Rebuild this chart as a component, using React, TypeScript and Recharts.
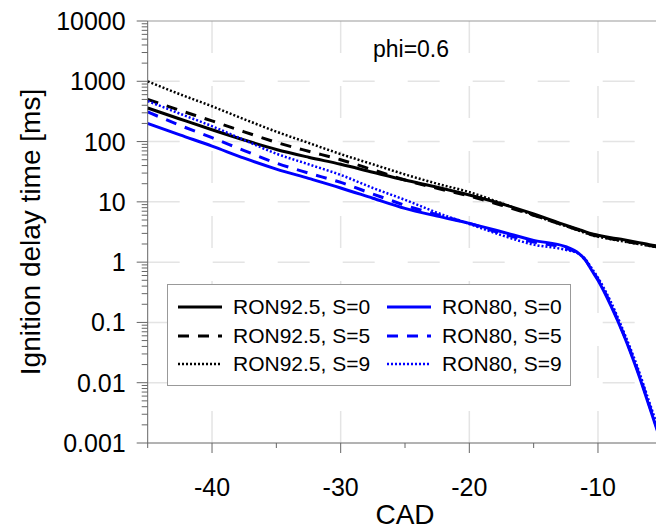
import React from "react";
import {
  LineChart,
  Line,
  XAxis,
  YAxis,
  CartesianGrid,
  ReferenceLine,
  Legend,
  Label,
} from "recharts";

// crank angle (CAD)
const cad = [-45, -42.5, -40, -37.5, -35, -32.5, -30, -27.5, -25, -22.5, -20, -17.5, -15, -12.5, -11.5, -11, -10.5, -10, -9, -8, -7, -6, -5];

// ignition delay time [ms]
const ron925S0 = [360, 237, 157, 106, 74, 55, 42, 31, 23, 17.5, 13, 9.3, 6.3, 4.1, 3.5, 3.2, 2.95, 2.8, 2.55, 2.35, 2.15, 1.95, 1.8];
const ron925S5 = [500, 330, 220, 145, 97, 69, 50, 34, 23, 16.8, 12.5, 8.8, 6.0, 4.0, 3.4, 3.1, 2.85, 2.7, 2.45, 2.25, 2.05, 1.88, 1.72];
const ron925S9 = [1000, 610, 385, 235, 146, 95, 62, 42, 28.5, 20, 14.5, 9.5, 6.0, 3.95, 3.35, 3.05, 2.8, 2.65, 2.4, 2.2, 2.02, 1.86, 1.7];
const ron80S0 = [200, 129, 84, 53, 35, 24.5, 17, 11.5, 7.8, 5.8, 4.4, 3.2, 2.3, 1.8, 1.4, 1.1, 0.74, 0.5, 0.19, 0.062, 0.017, 0.004, 0.0009];
const ron80S5 = [310, 186, 116, 71, 44, 30, 21, 13.5, 8.8, 6.1, 4.4, 3.0, 2.15, 1.7, 1.38, 1.1, 0.76, 0.52, 0.2, 0.064, 0.018, 0.0042, 0.00095];
const ron80S9 = [470, 290, 180, 106, 63, 42, 28, 17, 10.8, 6.6, 4.3, 2.8, 1.95, 1.6, 1.38, 1.13, 0.8, 0.55, 0.22, 0.07, 0.02, 0.0047, 0.0011];

const yMajor = [0.001, 0.01, 0.1, 1, 10, 100, 1000, 10000];
const xTicks = [-45, -40, -35, -30, -25, -20, -15, -10, -5];
const xMajor = [-40, -30, -20, -10];

const FONT = "'Liberation Sans', Arial, sans-serif";
const BLUE = "#0000ff";

const series = [
  { key: "ron925S0", name: "RON92.5, S=0", color: "#000", dash: undefined, width: 3 },
  { key: "ron925S5", name: "RON92.5, S=5", color: "#000", dash: "11 9", width: 3 },
  { key: "ron925S9", name: "RON92.5, S=9", color: "#000", dash: "2 2", width: 2.5 },
  { key: "ron80S0", name: "RON80, S=0", color: BLUE, dash: undefined, width: 3 },
  { key: "ron80S5", name: "RON80, S=5", color: BLUE, dash: "11 9", width: 3 },
  { key: "ron80S9", name: "RON80, S=9", color: BLUE, dash: "2 2", width: 2.5 },
];

const data = cad.map((c, i) => ({
  cad: c,
  ron925S0: ron925S0[i],
  ron925S5: ron925S5[i],
  ron925S9: ron925S9[i],
  ron80S0: ron80S0[i],
  ron80S5: ron80S5[i],
  ron80S9: ron80S9[i],
}));

// minor log ticks 2..9 in every decade
const yTicks = yMajor.concat(
  yMajor.slice(0, -1).flatMap((d) => [2, 3, 4, 5, 6, 7, 8, 9].map((m) => Number((d * m).toPrecision(3))))
);

const YTick = ({ x, y, payload }: any) => {
  const major = yMajor.includes(payload.value);
  return (
    <g>
      <line x1={x} x2={x - (major ? 11 : 6)} y1={y} y2={y} stroke="#666" strokeWidth={1} />
      {major && (
        <text x={x - 22} y={y} dy={9} textAnchor="end" fontSize={25} fontFamily={FONT} fill="#000">
          {String(payload.value)}
        </text>
      )}
    </g>
  );
};

const XTick = ({ x, y, payload }: any) => {
  const major = xMajor.includes(payload.value);
  return (
    <g>
      <line x1={x} x2={x} y1={y} y2={y + (major ? 10 : 5)} stroke="#666" strokeWidth={1} />
      {major && (
        <text x={x} y={y + 53} textAnchor="middle" fontSize={25} fontFamily={FONT} fill="#000">
          {String(payload.value)}
        </text>
      )}
    </g>
  );
};

const LegendBox = () => (
  <div
    style={{
      position: "relative",
      width: 404,
      height: 102,
      boxSizing: "border-box",
      border: "1px solid #999",
      background: "#fff",
      fontFamily: FONT,
    }}
  >
    {series.map((s, i) => (
      <div
        key={s.key}
        style={{
          position: "absolute",
          left: i < 3 ? 10 : 219,
          top: 8 + (i % 3) * 28.5,
          height: 28,
          display: "flex",
          alignItems: "center",
          whiteSpace: "nowrap",
        }}
      >
        <svg width={44} height={10} style={{ marginRight: 11 }}>
          <line x1={0} x2={44} y1={5} y2={5} stroke={s.color} strokeWidth={s.width} strokeDasharray={s.dash} />
        </svg>
        <span style={{ fontSize: 21, color: "#000" }}>{s.name}</span>
      </div>
    ))}
  </div>
);

export default function App() {
  return (
    <div style={{ position: "fixed", left: 0, top: 0, width: 656, height: 531, overflow: "hidden", background: "#fff" }}>
      <LineChart width={680} height={531} data={data} margin={{ top: 21, right: 17.7, bottom: 28, left: 0 }}>
        <CartesianGrid
          horizontalValues={[0.01, 0.1, 1, 10, 100, 1000]}
          verticalValues={xMajor}
          stroke="#e4e4e4"
          strokeWidth={1.5}
          strokeDasharray="32 33"
        />
        <XAxis
          type="number"
          dataKey="cad"
          domain={[-45, -5]}
          ticks={xTicks}
          interval={0}
          tickSize={0}
          tickMargin={0}
          tickLine={false}
          height={60}
          axisLine={{ stroke: "#666" }}
          tick={<XTick />}
        >
          <Label
            content={({ viewBox }: any) => (
              <text
                x={viewBox.x + viewBox.width / 2}
                y={viewBox.y + 81}
                textAnchor="middle"
                fontSize={28}
                fontFamily={FONT}
                fill="#000"
              >
                CAD
              </text>
            )}
          />
        </XAxis>
        <YAxis
          type="number"
          scale="log"
          domain={[0.001, 10000]}
          allowDataOverflow
          ticks={yTicks}
          interval={0}
          tickSize={0}
          tickMargin={0}
          tickLine={false}
          width={147.7}
          axisLine={{ stroke: "#666" }}
          tick={<YTick />}
        >
          <Label
            content={({ viewBox }: any) => {
              const cx = viewBox.x + 30;
              const cy = viewBox.y + viewBox.height / 2;
              return (
                <text
                  x={cx}
                  y={cy}
                  transform={`rotate(-90 ${cx} ${cy})`}
                  textAnchor="middle"
                  dominantBaseline="central"
                  fontSize={28}
                  fontFamily={FONT}
                  fill="#000"
                >
                  Ignition delay time [ms]
                </text>
              );
            }}
          />
        </YAxis>
        <ReferenceLine y={10000} stroke="#999" />
        <ReferenceLine x={-5} stroke="#999" />
        {series.map((s) => (
          <Line
            key={s.key}
            type="monotone"
            dataKey={s.key}
            name={s.name}
            stroke={s.color}
            strokeWidth={s.width}
            strokeDasharray={s.dash}
            dot={false}
            activeDot={false}
            isAnimationActive={false}
          />
        ))}
        <Legend
          layout="vertical"
          align="center"
          verticalAlign="middle"
          wrapperStyle={{ left: 167, top: 284, width: 404, height: 102 }}
          content={() => <LegendBox />}
        />
      </LineChart>
      <div
        style={{
          position: "absolute",
          left: 411,
          top: 36,
          transform: "translateX(-50%)",
          fontFamily: FONT,
          fontSize: 23,
          color: "#000",
          whiteSpace: "nowrap",
        }}
      >
        phi=0.6
      </div>
    </div>
  );
}
